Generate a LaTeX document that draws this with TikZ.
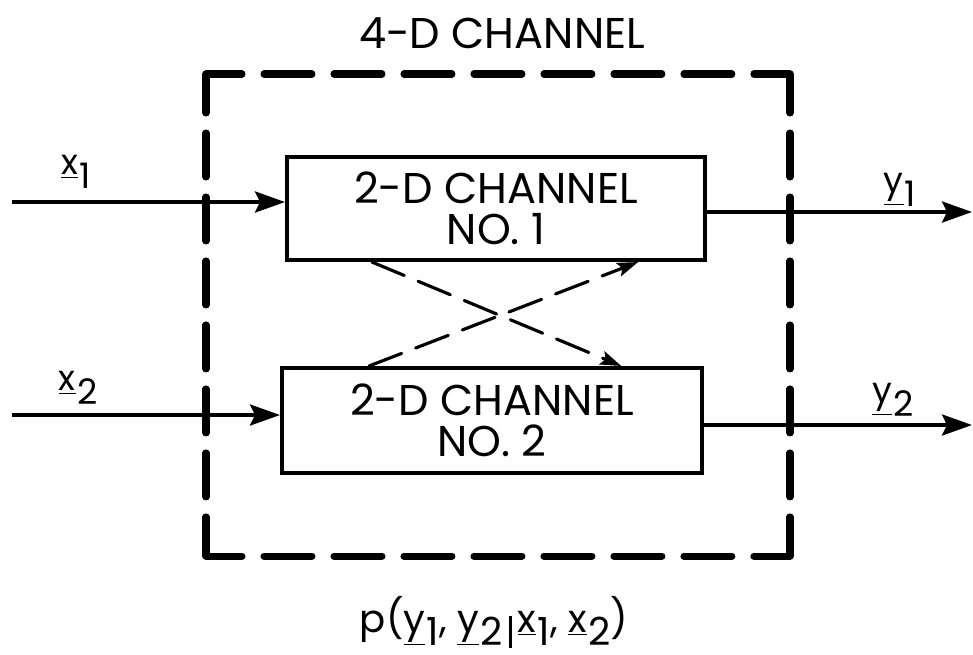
\documentclass[tikz,border=0pt]{standalone}
\usepackage{fontspec}
\setmainfont{Poppins}
\usetikzlibrary{arrows.meta,calc}
% underlined vector with a lowered, full-size index
\newcommand{\ulsub}[2]{\underline{#1}\kern0.04em\raisebox{-0.27cm}{#2}}
% tall conditioning bar
\newcommand{\condbar}{\hspace{0.12cm}\rule[-0.32cm]{0.06cm}{0.64cm}\hspace{0.12cm}}
\begin{document}
\begin{tikzpicture}[x=0.02cm,y=-0.02cm,
  chanbox/.style={draw, line width=2.3pt, minimum width=8.36cm, minimum height=2.06cm,
    align=center, inner sep=0pt, font=\fontsize{24.5}{23.5}\selectfont},
  sigline/.style={line width=2.2pt, -{Stealth[length=0.6cm,width=0.42cm,inset=0.1cm]}},
  crossline/.style={line width=1.8pt, line cap=round, dash pattern=on 0.7cm off 0.3cm,
    -{Stealth[length=0.42cm,width=0.28cm,inset=0.08cm]}},
  hside/.style={line width=4pt, line cap=round, dash pattern=on 0.96cm off 0.44cm, dash phase=0.24cm},
  vside/.style={line width=4pt, line cap=round, dash pattern=on 0.88cm off 0.40cm, dash phase=0.10cm},
  lab/.style={inner sep=0pt, font=\fontsize{20}{24}\selectfont},
  formfont/.style={inner sep=0pt, font=\fontsize{22}{26}\selectfont},
  titlefont/.style={inner sep=0pt, font=\fontsize{24.5}{30}\selectfont}
]
\useasboundingbox (0,0) rectangle (973,654);

% outer 4-D channel boundary
\coordinate (TL) at (206,74);
\coordinate (TR) at (790,74);
\coordinate (BL) at (206,556);
\coordinate (BR) at (790,556);
\draw[hside] (TL) -- (TR);
\draw[hside] (BL) -- (BR);
\draw[vside] (TL) -- (BL);
\draw[vside] (TR) -- (BR);
\node[titlefont] (title) at (502,33) {4-D CHANNEL};

% the two 2-D channels
\node[chanbox] (b1) at (496,208.5) {2-D CHANNEL\\NO. 1};
\node[chanbox, minimum width=8.4cm, minimum height=2.1cm] (b2) at (492,420.5) {2-D CHANNEL\\NO. 2};

% cross coupling
\draw[crossline] ($(b1.south west)!0.206!(b1.south east)$) -- ($(b2.north west)!0.805!(b2.north east)$);
\draw[crossline] ($(b2.north west)!0.21!(b2.north east)$) -- ($(b1.south west)!0.837!(b1.south east)$);

% inputs and outputs
\coordinate (x1in) at (12,202);
\coordinate (x2in) at (12,415);
\coordinate (y1out) at (972,212);
\coordinate (y2out) at (972,425);
\draw[sigline] (x1in) -- (x1in -| b1.west);
\draw[sigline] (x2in) -- (x2in -| b2.west);
\draw[sigline] (y1out -| b1.east) -- (y1out);
\draw[sigline] (y2out -| b2.east) -- (y2out);

\node[lab] (lx1) at (76,172) {\ulsub{x}{1}};
\node[lab] (lx2) at (78,388) {\ulsub{x}{2}};
\node[lab] (ly1) at (900,190) {\ulsub{y}{1}};
\node[lab] (ly2) at (893,400) {\ulsub{y}{2}};

% transition probability
\node[formfont] (pf) at (494,622) {p(\ulsub{y}{1}, \ulsub{y}{2}\condbar\ulsub{x}{1}, \ulsub{x}{2})};
\end{tikzpicture}
\end{document}
